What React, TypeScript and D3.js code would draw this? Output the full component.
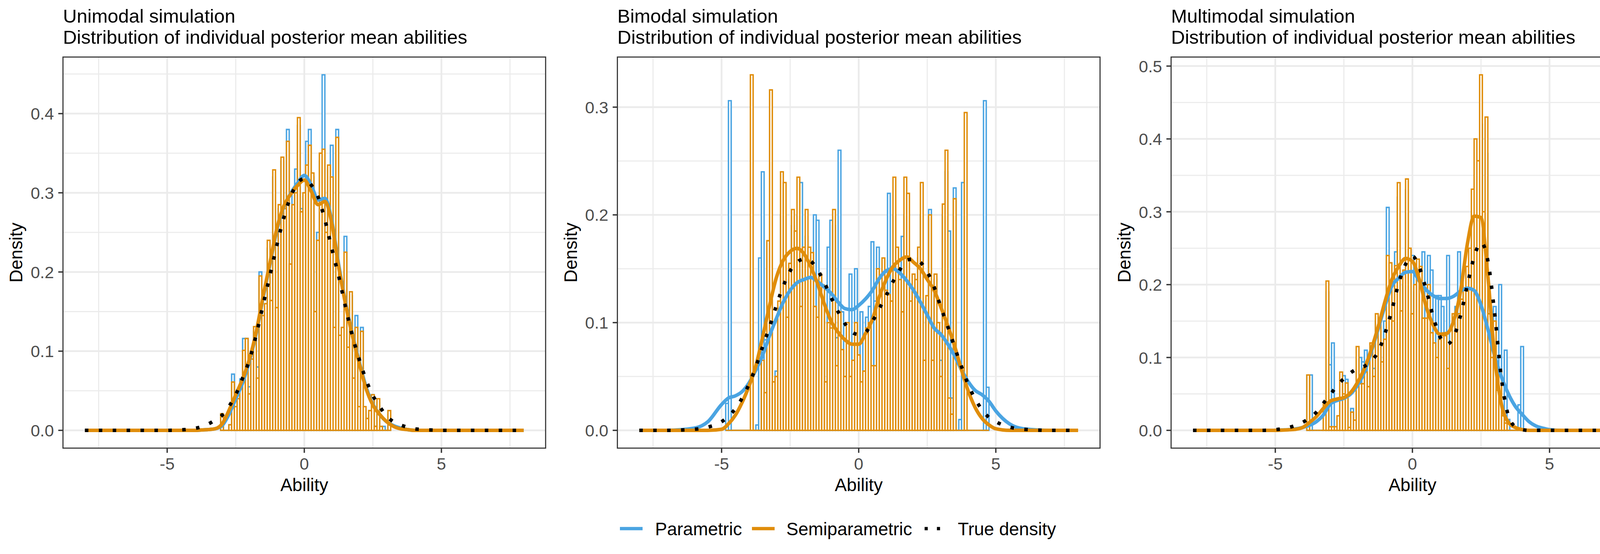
import React, { useEffect } from 'react';
import * as d3 from 'd3';

const W = 4256;
const H = 1418;
const BLUE = '#4AA4E2';
const ORANGE = '#E08D0A';
const FONT = '"Liberation Sans", Arial, Helvetica, sans-serif';

// ---------- text ----------
const panelTitles = ['Unimodal simulation', 'Bimodal simulation', 'Multimodal simulation'];
const panelSubtitle = 'Distribution of individual posterior mean abilities';
const xLabel = 'Ability';
const yLabel = 'Density';
const legendLabels = ['Parametric', 'Semiparametric', 'True density'];

// ---------- axes ----------
const xTicks = [-5, 0, 5];
const xMinor = [-7.5, -2.5, 2.5, 7.5];
const yTicksUni = [0, 0.1, 0.2, 0.3, 0.4];
const yTicksBi = [0, 0.1, 0.2, 0.3];
const yTicksMulti = [0, 0.1, 0.2, 0.3, 0.4, 0.5];
const binWidth = 0.1;

// ---------- histograms (density per 0.1-wide bin, first bin centre given) ----------
const uniBinStart = -3.0;
const uniSemiHist = [
  0.021, 0, 0, 0.007, 0.061, 0.030, 0.040, 0.055, 0.101, 0.116,
  0.046, 0.090, 0.131, 0.066, 0.195, 0.145, 0.160, 0.240, 0.164, 0.329,
  0.155, 0.285, 0.345, 0.280, 0.365, 0.210, 0.285, 0.300, 0.395, 0.276,
  0.300, 0.335, 0.360, 0.325, 0.150, 0.240, 0.350, 0.355, 0.250, 0.335,
  0.320, 0.130, 0.370, 0.120, 0.130, 0.225, 0.105, 0.175, 0.066, 0.130,
  0.030, 0.125, 0.030, 0.015, 0.025, 0.045, 0.005, 0.040, 0.005, 0.000,
  0.000, 0.025,
];
const uniParHist = [
  0.021, 0, 0, 0.007, 0.071, 0.040, 0.050, 0.065, 0.116, 0.116,
  0.055, 0.085, 0.125, 0.080, 0.200, 0.140, 0.150, 0.230, 0.160, 0.320,
  0.150, 0.280, 0.340, 0.270, 0.380, 0.200, 0.300, 0.330, 0.385, 0.280,
  0.295, 0.365, 0.380, 0.320, 0.145, 0.250, 0.340, 0.449, 0.240, 0.330,
  0.360, 0.125, 0.380, 0.115, 0.125, 0.245, 0.100, 0.170, 0.060, 0.145,
  0.025, 0.130, 0.025, 0.015, 0.020, 0.045, 0.005, 0.035, 0.000, 0.005,
  0.000, 0.020,
];

const biBinStart = -4.8;
const biSemiHist = [
  0, 0, 0, 0, 0, 0, 0, 0, 0, 0.330,
  0, 0, 0, 0.065, 0.035, 0.176, 0.316, 0.045, 0.050, 0.120,
  0.240, 0.230, 0.105, 0.155, 0.205, 0.185, 0.235, 0.115, 0.170, 0.205,
  0.170, 0.165, 0.115, 0.105, 0.145, 0.135, 0.045, 0.100, 0.095, 0.205,
  0.060, 0.110, 0.075, 0.050, 0.100, 0.050, 0.065, 0.100,
  0.070, 0.045, 0.055, 0.095, 0.100, 0.060, 0.060, 0.150, 0.130, 0.160,
  0.130, 0.126, 0.120, 0.235, 0.170, 0.140, 0.110, 0.235, 0.220, 0.120,
  0.145, 0.140, 0.170, 0.230, 0.065, 0.125, 0.200, 0.065, 0.145, 0.100,
  0.050, 0.210, 0.260, 0.030, 0.015, 0.215, 0, 0, 0, 0.295,
  0, 0, 0, 0, 0, 0, 0, 0,
];
const biParHist = [
  0.025, 0.306, 0, 0, 0, 0, 0, 0, 0, 0,
  0, 0.005, 0.160, 0.240, 0.084, 0.080, 0.150, 0.040, 0.055, 0.100,
  0.200, 0.200, 0.100, 0.140, 0.190, 0.170, 0.200, 0.230, 0.160, 0.180,
  0.150, 0.150, 0.200, 0.195, 0.130, 0.120, 0.040, 0.170, 0.195, 0.190,
  0.086, 0.260, 0.110, 0.045, 0.090, 0.145, 0.060, 0.150,
  0.065, 0.110, 0.050, 0.105, 0.115, 0.175, 0.120, 0.170, 0.120, 0.150,
  0.120, 0.220, 0.110, 0.200, 0.160, 0.130, 0.180, 0.200, 0.200, 0.110,
  0.130, 0.130, 0.160, 0.200, 0.060, 0.120, 0.205, 0.060, 0.140, 0.090,
  0.065, 0.200, 0.240, 0.185, 0.030, 0.225, 0, 0.010, 0.230, 0,
  0, 0, 0, 0, 0, 0, 0.306, 0.040,
];

const multiBinStart = -3.8;
const multiSemiHist = [
  0.076, 0, 0, 0, 0, 0, 0.038, 0.205, 0.005, 0.005,
  0.005, 0.020, 0.080, 0.050, 0.065, 0.004, 0.025, 0.014, 0.115, 0.064,
  0.064, 0.080, 0.060, 0.120, 0.074, 0.160, 0.150, 0.094, 0.125, 0.240,
  0.230, 0.150, 0.226, 0.340, 0.164, 0.220, 0.345, 0.250,
  0.160, 0.200, 0.235, 0.225, 0.154, 0.154, 0.200, 0.134, 0.120, 0.100,
  0.125, 0.130, 0.130, 0.085, 0.120, 0.160, 0.135, 0.160, 0.180, 0.225,
  0.225, 0.250, 0.331, 0.400, 0.370, 0.488, 0.300, 0.430, 0.160, 0.100,
  0.150, 0.055, 0.080, 0.020, 0.010, 0, 0, 0, 0, 0,
  0,
];
const multiParHist = [
  0.076, 0.076, 0, 0, 0, 0, 0.030, 0.190, 0.090, 0.120,
  0, 0.015, 0.070, 0.075, 0.070, 0, 0.030, 0.010, 0.100, 0.100,
  0.094, 0.110, 0.055, 0.110, 0.085, 0.150, 0.150, 0.090, 0.150, 0.306,
  0.220, 0.140, 0.245, 0.320, 0.150, 0.200, 0.330, 0.240,
  0.240, 0.190, 0.220, 0.210, 0.245, 0.140, 0.240, 0.220, 0.110, 0.185,
  0.185, 0.170, 0.120, 0.240, 0.110, 0.150, 0.170, 0.245, 0.170, 0.200,
  0.200, 0.230, 0.300, 0.350, 0.330, 0.420, 0.280, 0.380, 0.160, 0.090,
  0.170, 0.100, 0.200, 0.018, 0.110, 0.015, 0, 0, 0, 0.035,
  0.115,
];

// ---------- density curves (values read at these abilities) ----------
const curveX = [
  -8, -7, -6, -5.5,
  -5, -4.75, -4.5, -4.25,
  -4, -3.75, -3.5, -3.25,
  -3, -2.75, -2.5, -2.25,
  -2, -1.75, -1.5, -1.25,
  -1, -0.75, -0.5, -0.25,
  0,
  0.25, 0.5, 0.75, 1,
  1.25, 1.5, 1.75, 2,
  2.25, 2.5, 2.75, 3,
  3.25, 3.5, 3.75, 4,
  4.25, 4.5, 4.75, 5,
  5.5, 6, 7, 8,
];

const uniSemiDens = [
  0, 0, 0, 0, 0, 0, 0, 0, 0, 0.0005, 0.001, 0.002,
  0.008, 0.025, 0.045, 0.065, 0.09, 0.125, 0.17, 0.212, 0.255, 0.283, 0.298, 0.309,
  0.316,
  0.302, 0.285, 0.289, 0.262, 0.207, 0.16, 0.12, 0.085, 0.053, 0.032, 0.02, 0.011,
  0.005, 0.002, 0.001, 0, 0, 0, 0, 0, 0, 0, 0, 0,
];
const uniParDens = [
  0, 0, 0, 0, 0, 0, 0, 0, 0, 0.0005, 0.001, 0.002,
  0.006, 0.02, 0.04, 0.06, 0.088, 0.123, 0.168, 0.21, 0.253, 0.282, 0.299, 0.312,
  0.322,
  0.31, 0.291, 0.293, 0.265, 0.21, 0.162, 0.122, 0.087, 0.055, 0.033, 0.02, 0.011,
  0.006, 0.003, 0.001, 0, 0, 0, 0, 0, 0, 0, 0, 0,
];
const uniTrueDens = [
  0, 0, 0, 0, 0, 0.0003, 0.0006, 0.0012, 0.0024, 0.0045, 0.008, 0.013,
  0.019, 0.03, 0.045, 0.066, 0.089, 0.121, 0.159, 0.196, 0.234, 0.268, 0.295, 0.312,
  0.318,
  0.31, 0.295, 0.266, 0.23, 0.195, 0.156, 0.12, 0.09, 0.064, 0.044, 0.03, 0.018,
  0.011, 0.007, 0.004, 0.002, 0.0012, 0.0006, 0.0003, 0, 0, 0, 0, 0,
];

const biSemiDens = [
  0, 0, 0, 0, 0.001, 0.006, 0.014, 0.026, 0.041, 0.06, 0.087, 0.116,
  0.142, 0.158, 0.166, 0.169, 0.164, 0.152, 0.136, 0.117, 0.101, 0.091, 0.084, 0.08,
  0.08,
  0.09, 0.103, 0.124, 0.14, 0.152, 0.158, 0.161, 0.156, 0.15, 0.14, 0.13, 0.114,
  0.097, 0.078, 0.056, 0.036, 0.021, 0.011, 0.005, 0.0015, 0, 0, 0, 0,
];
const biParDens = [
  0, 0, 0.002, 0.008, 0.024, 0.03, 0.032, 0.036, 0.044, 0.056, 0.07, 0.088,
  0.104, 0.119, 0.13, 0.137, 0.14, 0.142, 0.138, 0.133, 0.127, 0.119, 0.113, 0.112,
  0.116,
  0.122, 0.13, 0.141, 0.148, 0.15, 0.146, 0.139, 0.13, 0.119, 0.107, 0.095, 0.089,
  0.08, 0.069, 0.056, 0.045, 0.037, 0.033, 0.027, 0.018, 0.006, 0.0015, 0, 0,
];
const biTrueDens = [
  0, 0, 0.001, 0.003, 0.008, 0.013, 0.02, 0.03, 0.043, 0.059, 0.078, 0.096,
  0.116, 0.134, 0.148, 0.156, 0.159, 0.157, 0.149, 0.137, 0.123, 0.11, 0.099, 0.091,
  0.089,
  0.091, 0.101, 0.113, 0.125, 0.138, 0.149, 0.158, 0.159, 0.156, 0.147, 0.133, 0.114,
  0.096, 0.077, 0.059, 0.042, 0.029, 0.019, 0.012, 0.008, 0.003, 0.001, 0, 0,
];

const multiSemiDens = [
  0, 0, 0, 0, 0, 0.0003, 0.0008, 0.0015, 0.004, 0.011, 0.019, 0.03,
  0.04, 0.043, 0.045, 0.052, 0.066, 0.085, 0.111, 0.142, 0.177, 0.207, 0.225, 0.236,
  0.232,
  0.207, 0.17, 0.145, 0.132, 0.133, 0.15, 0.19, 0.255, 0.294, 0.292, 0.212, 0.1,
  0.035, 0.011, 0.004, 0.001, 0, 0, 0, 0, 0, 0, 0, 0,
];
const multiParDens = [
  0, 0, 0, 0, 0, 0.0005, 0.001, 0.002, 0.004, 0.007, 0.012, 0.021,
  0.036, 0.041, 0.044, 0.05, 0.062, 0.08, 0.108, 0.139, 0.171, 0.198, 0.209, 0.217,
  0.218,
  0.205, 0.193, 0.185, 0.181, 0.181, 0.184, 0.191, 0.195, 0.192, 0.172, 0.139, 0.102,
  0.073, 0.05, 0.033, 0.022, 0.012, 0.006, 0.003, 0.001, 0, 0, 0, 0,
];
const multiTrueDens = [
  0, 0, 0, 0, 0.001, 0.002, 0.004, 0.007, 0.011, 0.017, 0.025, 0.037,
  0.049, 0.061, 0.071, 0.079, 0.085, 0.088, 0.095, 0.108, 0.133, 0.165, 0.202, 0.228,
  0.239,
  0.224, 0.193, 0.157, 0.129, 0.118, 0.128, 0.157, 0.199, 0.238, 0.258, 0.233, 0.16,
  0.07, 0.02, 0.005, 0.001, 0, 0, 0, 0, 0, 0, 0, 0,
];

// ---------- layout ----------
const PANEL_LEFTS = [161.2, 1580.5, 2998.0];
const PANEL_W = 1235.6;
const PANEL_TOP = 146;
const PANEL_BOTTOM = 1147;
const X_DOMAIN: [number, number] = [-8.8, 8.8];

const LINE_W = 9;
const BAR_STROKE = 3.6;
const GRID = '#EBEBEB';
const BORDER = '#333333';

type Spec = {
  title: string;
  binStart: number;
  semiHist: number[];
  parHist: number[];
  semiDens: number[];
  parDens: number[];
  trueDens: number[];
  yTicks: number[];
};

const specs: Spec[] = [
  { title: panelTitles[0], binStart: uniBinStart, semiHist: uniSemiHist, parHist: uniParHist,
    semiDens: uniSemiDens, parDens: uniParDens, trueDens: uniTrueDens, yTicks: yTicksUni },
  { title: panelTitles[1], binStart: biBinStart, semiHist: biSemiHist, parHist: biParHist,
    semiDens: biSemiDens, parDens: biParDens, trueDens: biTrueDens, yTicks: yTicksBi },
  { title: panelTitles[2], binStart: multiBinStart, semiHist: multiSemiHist, parHist: multiParHist,
    semiDens: multiSemiDens, parDens: multiParDens, trueDens: multiTrueDens, yTicks: yTicksMulti },
];

function Panel({ spec, left, idx }: { spec: Spec; left: number; idx: number }) {
  const x = d3.scaleLinear().domain(X_DOMAIN).range([left, left + PANEL_W]);
  const yMax = d3.max([
    ...spec.semiHist, ...spec.parHist, ...spec.semiDens, ...spec.parDens, ...spec.trueDens,
  ]) as number;
  const y = d3.scaleLinear().domain([-0.05 * yMax, 1.05 * yMax]).range([PANEL_BOTTOM, PANEL_TOP]);
  const yTop = 1.05 * yMax;
  const yMinor = spec.yTicks.map((t) => t + 0.05).filter((t) => t < yTop);

  const line = d3
    .line<number>()
    .x((_, i) => x(curveX[i]))
    .y((d) => y(d))
    .curve(d3.curveMonotoneX);

  const barPath = (v: number, i: number) => {
    const c = spec.binStart + i * binWidth;
    const x0 = x(c - binWidth / 2);
    const x1 = x(c + binWidth / 2);
    const y0 = y(0);
    const y1 = y(v);
    return `M${x0},${y0}V${y1}H${x1}V${y0}Z`;
  };

  const clipId = `clip-${idx}`;
  const cx = left + PANEL_W / 2;
  const cy = (PANEL_TOP + PANEL_BOTTOM) / 2;

  return (
    <g>
      <defs>
        <clipPath id={clipId}>
          <rect x={left} y={PANEL_TOP} width={PANEL_W} height={PANEL_BOTTOM - PANEL_TOP} />
        </clipPath>
      </defs>
      {/* titles */}
      <text x={left} y={58} fontSize={49} fontFamily={FONT} fill="#000">{spec.title}</text>
      <text x={left} y={112} fontSize={49} fontFamily={FONT} fill="#000">{panelSubtitle}</text>

      <rect x={left} y={PANEL_TOP} width={PANEL_W} height={PANEL_BOTTOM - PANEL_TOP} fill="#fff" />
      <g clipPath={`url(#${clipId})`}>
        {/* grid */}
        {yMinor.map((t) => (
          <line key={`ym${t}`} x1={left} x2={left + PANEL_W} y1={y(t)} y2={y(t)} stroke={GRID} strokeWidth={2.8} />
        ))}
        {xMinor.map((t) => (
          <line key={`xm${t}`} x1={x(t)} x2={x(t)} y1={PANEL_TOP} y2={PANEL_BOTTOM} stroke={GRID} strokeWidth={2.8} />
        ))}
        {spec.yTicks.map((t) => (
          <line key={`yM${t}`} x1={left} x2={left + PANEL_W} y1={y(t)} y2={y(t)} stroke={GRID} strokeWidth={4.5} />
        ))}
        {xTicks.map((t) => (
          <line key={`xM${t}`} x1={x(t)} x2={x(t)} y1={PANEL_TOP} y2={PANEL_BOTTOM} stroke={GRID} strokeWidth={4.5} />
        ))}

        {/* histograms */}
        {spec.parHist.map((v, i) => (
          <path key={`pb${i}`} d={barPath(v, i)} fill="#fff" stroke={BLUE} strokeWidth={BAR_STROKE} />
        ))}
        {spec.semiHist.map((v, i) => (
          <path key={`sb${i}`} d={barPath(v, i)} fill="#fff" stroke={ORANGE} strokeWidth={BAR_STROKE} />
        ))}

        {/* densities */}
        <path d={line(spec.parDens) || ''} fill="none" stroke={BLUE} strokeWidth={LINE_W} strokeLinejoin="round" />
        <path d={line(spec.semiDens) || ''} fill="none" stroke={ORANGE} strokeWidth={LINE_W} strokeLinejoin="round" />
        <path d={line(spec.trueDens) || ''} fill="none" stroke="#000" strokeWidth={LINE_W}
          strokeDasharray="8.9 26.7" strokeLinecap="butt" />
      </g>
      <rect x={left} y={PANEL_TOP} width={PANEL_W} height={PANEL_BOTTOM - PANEL_TOP} fill="none" stroke={BORDER} strokeWidth={2.8} />

      {/* y axis */}
      {spec.yTicks.map((t) => (
        <g key={`yt${t}`}>
          <line x1={left - 12} x2={left} y1={y(t)} y2={y(t)} stroke={BORDER} strokeWidth={3.4} />
          <text x={left - 23} y={y(t)} dy="0.36em" textAnchor="end" fontSize={43} fontFamily={FONT} fill="#4D4D4D">
            {t.toFixed(1)}
          </text>
        </g>
      ))}
      <text transform={`translate(${left - 104},${cy}) rotate(-90)`} textAnchor="middle" fontSize={46} fontFamily={FONT} fill="#000">
        {yLabel}
      </text>

      {/* x axis */}
      {xTicks.map((t) => (
        <g key={`xt${t}`}>
          <line x1={x(t)} x2={x(t)} y1={PANEL_BOTTOM} y2={PANEL_BOTTOM + 12} stroke={BORDER} strokeWidth={3.4} />
          <text x={x(t)} y={1202} textAnchor="middle" fontSize={43} fontFamily={FONT} fill="#4D4D4D">
            {String(t)}
          </text>
        </g>
      ))}
      <text x={cx} y={1257} textAnchor="middle" fontSize={46} fontFamily={FONT} fill="#000">{xLabel}</text>
    </g>
  );
}

function Legend() {
  const keys = [
    { x1: 1587, x2: 1645, color: BLUE, dash: undefined as string | undefined, tx: 1677, label: legendLabels[0] },
    { x1: 1925, x2: 1983, color: ORANGE, dash: undefined as string | undefined, tx: 2013, label: legendLabels[1] },
    { x1: 2363, x2: 2421, color: '#000', dash: '8 23.5', tx: 2452, label: legendLabels[2] },
  ];
  const ly = 1353;
  return (
    <g>
      {keys.map((k) => (
        <g key={k.label}>
          <line x1={k.x1} x2={k.x2} y1={ly} y2={ly} stroke={k.color} strokeWidth={8.6}
            strokeDasharray={k.dash} strokeDashoffset={k.dash ? -4 : undefined} strokeLinecap="butt" />
          <text x={k.tx} y={1370} fontSize={46} fontFamily={FONT} fill="#000">{k.label}</text>
        </g>
      ))}
    </g>
  );
}

export default function App() {
  useEffect(() => {
    document.body.style.margin = '0';
  }, []);
  return (
    <svg width={W} height={H} viewBox={`0 0 ${W} ${H}`} xmlns="http://www.w3.org/2000/svg"
      style={{ display: 'block', position: 'absolute', left: 0, top: 0, background: '#fff' }}>
      <rect x={0} y={0} width={W} height={H} fill="#fff" />
      {specs.map((s, i) => (
        <Panel key={i} spec={s} left={PANEL_LEFTS[i]} idx={i} />
      ))}
      <Legend />
    </svg>
  );
}
